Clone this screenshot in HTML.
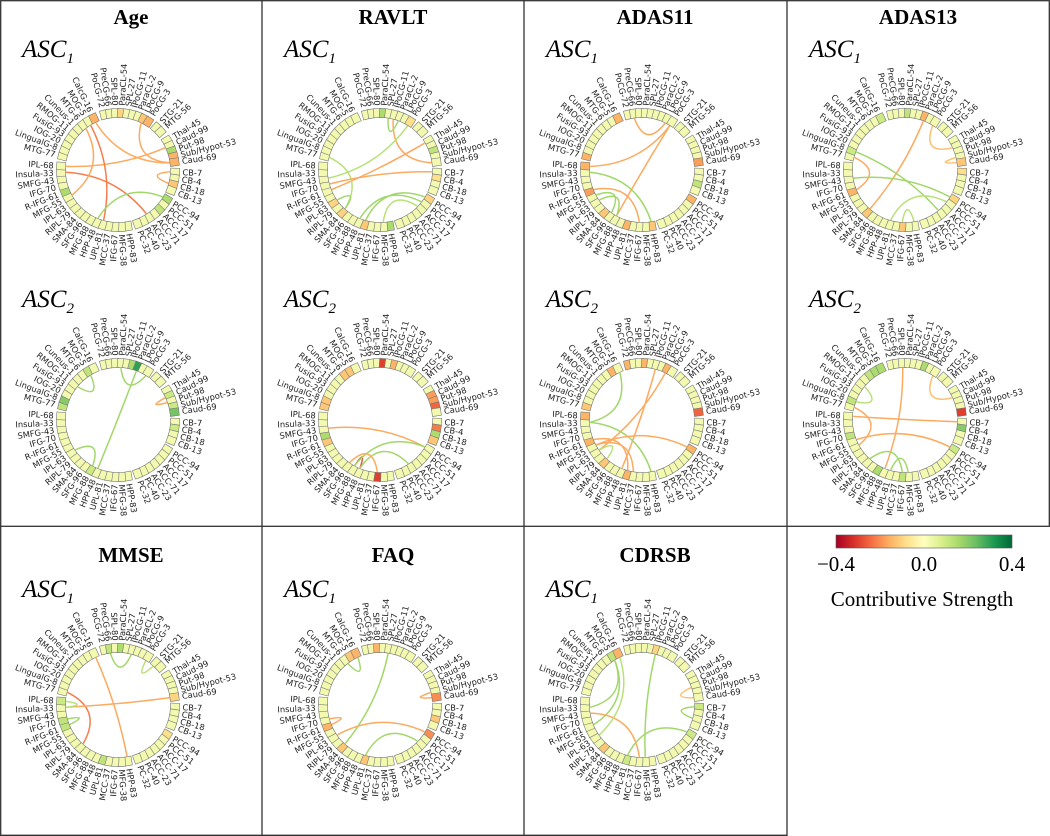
<!DOCTYPE html>
<html><head><meta charset="utf-8">
<style>
body{margin:0;background:#fff;}
svg{display:block;}
.t{font-family:"Liberation Serif",serif;}
.lab{font-family:"DejaVu Sans",sans-serif;font-size:8.3px;fill:#222;}
</style></head>
<body>
<svg id="fig" width="1050" height="836" viewBox="0 0 1050 836" xmlns="http://www.w3.org/2000/svg">
<g stroke="#333" stroke-width="1.3" fill="none">
<rect x="0.7" y="0.7" width="1048.6" height="525.6"/>
<line x1="262" y1="0" x2="262" y2="836"/>
<line x1="524" y1="0" x2="524" y2="836"/>
<line x1="787" y1="0" x2="787" y2="836"/>
<line x1="0.7" y1="526" x2="0.7" y2="836"/>
<line x1="0" y1="835.3" x2="787" y2="835.3"/>
</g>
<defs><linearGradient id="cbg" x1="0" x2="1" y1="0" y2="0">
<stop offset="0" stop-color="#a50026"/><stop offset="0.1" stop-color="#d73027"/><stop offset="0.2" stop-color="#f46d43"/><stop offset="0.3" stop-color="#fdae61"/><stop offset="0.4" stop-color="#fee08b"/><stop offset="0.5" stop-color="#ffffbf"/><stop offset="0.6" stop-color="#d9ef8b"/><stop offset="0.7" stop-color="#a6d96a"/><stop offset="0.8" stop-color="#66bd63"/><stop offset="0.9" stop-color="#1a9850"/><stop offset="1" stop-color="#006837"/>
</linearGradient></defs>
<g>
<rect x="836" y="535" width="176" height="13" fill="url(#cbg)" stroke="#555" stroke-width="0.6"/>
<text class="t" x="836" y="571" font-size="21" text-anchor="middle">−0.4</text>
<text class="t" x="924" y="571" font-size="21" text-anchor="middle">0.0</text>
<text class="t" x="1012" y="571" font-size="21" text-anchor="middle">0.4</text>
<text class="t" x="922" y="606" font-size="21" text-anchor="middle">Contributive Strength</text>
</g>
<g id="panels"></g>
</svg>
<script>
// ---- node names (groups) ----
const groupTop = ["PoCG-72","PreCG-66","SPL-80","ParaCL-54","SPL-27","IPoCG-11","ParaCL-2","LPoCG-9","PoCG-3"];
const groupSTG = ["STG-21","MTG-56"];
const groupSub = ["Thal-45","Caud-99","Put-98","Sub/Hypot-53","Caud-69"];
const groupCB = ["CB-7","CB-4","CB-18","CB-13"];
const groupPCC = ["PCC-94","PCC-51","ACC-17","ACC-71","ACC-23","PC-40","PC-32"];
const groupBL = ["HPP-83","MFG-38","IFG-67","MCC-37","UPL-81","HPP-48","MFG-88","SFG-96","SMA-84","RIPL-79","IPL-63","MFG-55","R-IFG-61","IFG-70","SMFG-43","Insula-33","IPL-68"];
const groupLU = ["MTG-77","LingualG-8","IOG-20","FusiG-93","RMOG-11","Cuneus-1","MTG-6","MOG-5","CalcG-16"];

// ---- panels: titles, subplot labels, node strengths, links ----
const panelTitles = ["Age","RAVLT","ADAS11","ADAS13","MMSE","FAQ","CDRSB"];
const subplotNames = ["Age-ASC1","Age-ASC2","RAVLT-ASC1","RAVLT-ASC2","ADAS11-ASC1","ADAS11-ASC2","ADAS13-ASC1","ADAS13-ASC2","MMSE-ASC1","FAQ-ASC1","CDRSB-ASC1"];
const nodeValues = [
 [["CalcG-16",-0.15],["ParaCL-54",-0.1],["LPoCG-9",-0.12],["PoCG-3",-0.15],["Put-98",0.15],["Sub/Hypot-53",-0.15],["Caud-69",-0.15],["CB-18",-0.12],["R-IFG-61",0.15],["PCC-94",0.15],["ACC-17",0.12]],
 [["ParaCL-2",0.3],["IPoCG-11",0.15],["Caud-99",0.1],["Caud-69",0.22],["Sub/Hypot-53",0.1],["LingualG-8",0.2],["MTG-77",0.12],["MOG-5",0.12],["CB-4",0.1],["MFG-88",0.1]],
 [["ParaCL-54",0.15],["PoCG-3",-0.08],["Put-98",0.12],["CB-4",-0.08],["IPL-63",-0.1],["SMA-84",-0.1],["UPL-81",-0.12],["PCC-94",-0.1],["HPP-83",0.15]],
 [["ParaCL-54",-0.3],["IPoCG-11",-0.15],["Caud-99",-0.18],["Put-98",-0.18],["Sub/Hypot-53",-0.25],["CB-4",-0.22],["CB-18",0.15],["CB-13",-0.12],["IFG-70",0.15],["R-IFG-61",-0.12],["IFG-67",-0.3],["MOG-5",-0.12],["MTG-6",-0.12],["LingualG-8",-0.12],["MTG-77",-0.12]],
 [["CalcG-16",-0.15],["Caud-69",-0.18],["CB-18",0.12],["IPL-68",-0.15],["R-IFG-61",-0.18],["SMA-84",-0.12],["UPL-81",-0.15],["PCC-94",-0.15],["HPP-83",-0.12],["MTG-77",-0.15]],
 [["PoCG-72",-0.15],["ParaCL-54",-0.15],["LPoCG-9",-0.15],["Caud-69",-0.25],["IPL-68",-0.15],["R-IFG-61",-0.15],["SMA-84",-0.12],["UPL-81",-0.15],["PCC-94",-0.15],["MOG-5",-0.15],["MTG-77",-0.12]],
 [["ParaCL-2",-0.15],["ParaCL-54",0.12],["Caud-69",-0.12],["CB-7",-0.08],["PCC-94",-0.1],["IFG-67",-0.12],["SMA-84",-0.12],["R-IFG-61",-0.15],["LingualG-8",0.1],["CalcG-16",0.1]],
 [["Caud-69",-0.3],["IFG-70",0.12],["LingualG-8",0.12],["MOG-5",0.15],["CalcG-16",0.15],["MTG-6",0.12],["ParaCL-2",0.15],["CB-4",0.2],["MFG-88",0.15],["IFG-67",0.12],["PCC-94",0.1]],
 [["ParaCL-54",0.15],["PreCG-66",0.12],["Caud-69",-0.1],["IPL-68",0.1],["IFG-70",0.12],["R-IFG-61",0.12],["UPL-81",0.12],["PCC-94",-0.08]],
 [["SPL-80",-0.15],["Caud-69",-0.2],["CB-18",-0.12],["R-IFG-61",-0.15],["SMA-84",-0.12],["UPL-81",-0.12],["PCC-94",-0.2],["CalcG-16",-0.15],["MOG-5",-0.12]],
 [["IPoCG-11",-0.1],["CalcG-16",-0.15],["MOG-5",0.12],["CB-7",0.1],["PCC-94",0.1],["SMA-84",-0.12],["UPL-81",0.1]]
];
const links = [
 [["LPoCG-9","Caud-69",-0.15],["CalcG-16","Caud-69",-0.15],["IPL-68","Caud-99",-0.15],["MOG-5","UPL-81",-0.2],["CB-7","CB-18",-0.15],["Insula-33","ACC-23",-0.2],["PCC-94","HPP-48",0.15],["MTG-6","MFG-55",-0.15]],
 [["MOG-5","RMOG-11",0.15],["ParaCL-2","HPP-48",0.15],["PoCG-3","ParaCL-54",0.15],["IPL-63","MFG-88",0.15],["Caud-99","Put-98",-0.15]],
 [["IPoCG-11","Caud-69",-0.15],["SPL-27","ParaCL-2",0.15],["Thal-45","R-IFG-61",-0.15],["MTG-77","SMA-84",0.12],["IFG-70","CB-7",-0.15],["UPL-81","PCC-94",0.15],["HPP-48","PCC-51",0.15],["MFG-38","ACC-17",0.12],["IPL-63","SMA-84",0.15],["PoCG-3","SMFG-43",0.12]],
 [["SMFG-43","PCC-94",-0.15],["MFG-88","HPP-48",-0.25],["HPP-48","ACC-23",0.15],["MFG-88","PCC-94",0.15],["SFG-96","IFG-67",-0.15]],
 [["PreCG-66","LPoCG-9",-0.15],["IPL-68","PoCG-3",-0.15],["PoCG-3","MFG-88",-0.15],["Insula-33","HPP-83",0.15],["R-IFG-61","IFG-67",-0.15],["IPL-63","MFG-88",0.15],["MFG-55","SFG-96",0.15]],
 [["IPoCG-11","HPP-48",-0.15],["LPoCG-9","IPL-63",-0.15],["CalcG-16","Insula-33",0.15],["Insula-33","HPP-83",0.15],["R-IFG-61","UPL-81",-0.15],["MFG-55","PCC-94",-0.15],["IPL-63","SMA-84",0.12],["MFG-55","MCC-37",-0.15]],
 [["MTG-77","R-IFG-61",-0.15],["ParaCL-2","SMA-84",-0.15],["LingualG-8","ACC-71",0.15],["IFG-67","HPP-83",0.12],["Caud-69","Sub/Hypot-53",-0.12],["PoCG-3","Caud-99",-0.12],["SMFG-43","PCC-94",0.15],["UPL-81","PCC-51",0.12]],
 [["SPL-80","HPP-48",-0.15],["MTG-77","MFG-55",-0.15],["IPL-68","CB-7",-0.15],["R-IFG-61","PCC-94",-0.15],["SMA-84","IFG-67",0.15],["UPL-81","MFG-38",0.15],["PoCG-3","Caud-99",-0.12],["LingualG-8","RMOG-11",0.12]],
 [["PreCG-66","IPoCG-11",0.15],["MTG-77","SMA-84",-0.2],["CalcG-16","HPP-83",-0.15],["Insula-33","Caud-69",-0.15],["IFG-70","R-IFG-61",0.15],["IPL-68","Insula-33",0.12],["PoCG-3","STG-21",0.12]],
 [["SPL-27","SMA-84",0.15],["CalcG-16","MTG-6",0.15],["Caud-69","Sub/Hypot-53",-0.15],["IPL-63","PCC-94",-0.15],["UPL-81","ACC-17",0.15],["IFG-70","R-IFG-61",-0.15]],
 [["IPoCG-11","MFG-38",0.15],["MOG-5","Insula-33",0.15],["MOG-5","R-IFG-61",0.15],["CB-7","CB-18",0.15],["UPL-81","PCC-94",0.15],["SMFG-43","IFG-67",-0.15],["Caud-69","Put-98",-0.12],["CalcG-16","IPL-63",0.12]]
];

// layout (not data)
const groups=[groupTop,groupSTG,groupSub,groupCB,groupPCC,groupBL,groupLU];
const groupSpan=[[-104,-58],[-48,-42],[-31,-8],[2,21],[31,70],[80,184],[194,245]];
const subplotPos=[[0,0],[0,1],[1,0],[1,1],[2,0],[2,1],[3,0],[3,1],[0,2],[1,2],[2,2]];
const colX=[0,262,524,787], rowCY=[170,420,705], rowLabY=[57,307,597];

const stops=[[-0.4,[165,0,38]],[-0.32,[215,48,39]],[-0.24,[244,109,67]],[-0.16,[253,174,97]],[-0.08,[254,224,139]],[0,[255,255,191]],[0.08,[217,239,139]],[0.16,[166,217,106]],[0.24,[102,189,99]],[0.32,[26,152,80]],[0.4,[0,104,55]]];
function cmap(v){v=Math.max(-0.4,Math.min(0.4,v));for(let i=0;i<stops.length-1;i++){const a=stops[i],b=stops[i+1];if(v<=b[0]){const t=(v-a[0])/(b[0]-a[0]);return 'rgb('+a[1].map((c,k)=>Math.round(c+(b[1][k]-c)*t)).join(',')+')';}}return 'rgb(0,104,55)';}

const NS='http://www.w3.org/2000/svg';
function mk(tag,attrs,parent){const e=document.createElementNS(NS,tag);for(const k in attrs)e.setAttribute(k,attrs[k]);parent.appendChild(e);return e;}
const nodeAngle={},nodeOrder=[];
groups.forEach((g,gi)=>{const [a0,a1]=groupSpan[gi];g.forEach((n,i)=>{nodeAngle[n]=g.length>1?a0+(a1-a0)*i/(g.length-1):a0;nodeOrder.push(n);});});

const root=document.getElementById('panels');
panelTitles.forEach((t,i)=>{
  const col=i<4?i:i-4, y=i<4?24:562;
  const el=mk('text',{class:'t',x:colX[col]+131,y:y,'font-size':21,'font-weight':'bold','text-anchor':'middle'},root);
  el.textContent=t;
  
  
});
const R=57, RIN=52;
subplotNames.forEach((name,si)=>{
  const [col,row]=subplotPos[si];
  const cx=colX[col]+118, cy=rowCY[row];
  const g=mk('g',{},root);
  
  
  const asc=name.endsWith('2')?'2':'1';
  const lab=mk('text',{class:'t',x:colX[col]+22,y:rowLabY[row],'font-size':25,'font-style':'italic'},g);
  lab.innerHTML='ASC<tspan font-size="15" dy="6">'+asc+'</tspan>';
  
  
  const vals={};nodeValues[si].forEach(([n,v])=>vals[n]=v);
  links[si].forEach(([a,b,v])=>{
    const ta=nodeAngle[a]*Math.PI/180, tb=nodeAngle[b]*Math.PI/180;
    const x1=cx+RIN*Math.cos(ta),y1=cy+RIN*Math.sin(ta),x2=cx+RIN*Math.cos(tb),y2=cy+RIN*Math.sin(tb);
    let d=Math.abs(nodeAngle[a]-nodeAngle[b]);if(d>180)d=360-d;
    const mx=(x1+x2)/2,my=(y1+y2)/2,k=Math.pow(d/180,0.6);
    const qx=mx+(cx-mx)*k*0.9+(cx-mx)*(1-k)*0.35, qy=my+(cy-my)*k*0.9+(cy-my)*(1-k)*0.35;
    const p=mk('path',{d:`M${x1.toFixed(1)},${y1.toFixed(1)} Q${qx.toFixed(1)},${qy.toFixed(1)} ${x2.toFixed(1)},${y2.toFixed(1)}`,fill:'none',stroke:cmap(v*1.1),'stroke-width':1.5},g);
    
    
  });
  nodeOrder.forEach(n=>{
    const ang=nodeAngle[n], t=ang*Math.PI/180;
    const x=cx+R*Math.cos(t), y=cy+R*Math.sin(t);
    const v=(n in vals)?vals[n]:0.025;
    const r=mk('rect',{x:-4.5,y:-3.8,width:9,height:7.6,fill:cmap(v),stroke:'#777','stroke-width':0.6,transform:`translate(${x.toFixed(1)},${y.toFixed(1)}) rotate(${ang.toFixed(1)})`},g);
    
    
    const lx=cx+(R+7.5)*Math.cos(t), ly=cy+(R+7.5)*Math.sin(t);
    const left=Math.cos(t)<0;
    const tx=mk('text',{class:'lab',x:0,y:0,'dominant-baseline':'central','text-anchor':left?'end':'start',transform:`translate(${lx.toFixed(1)},${ly.toFixed(1)}) rotate(${(left?ang+180:ang).toFixed(1)})`},g);
    tx.textContent=n;
    
    
  });
});
</script>
</body></html>
